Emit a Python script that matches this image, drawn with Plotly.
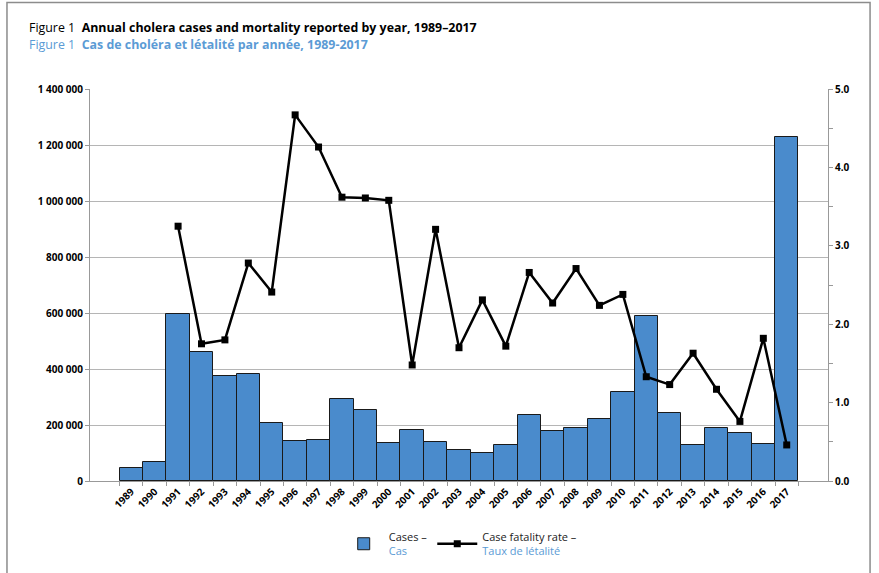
import plotly.graph_objects as go

years = [str(y) for y in range(1989, 2018)]
cases = [47000, 68000, 595000, 461000, 376000, 383000, 207000, 143000, 146000, 292000,
         252000, 135000, 183000, 141000, 110000, 99000, 129000, 234000, 177000, 189000,
         220000, 317000, 589000, 244000, 128000, 189000, 171000, 132000, 1227000]
cfr = [None, None, 3.25, 1.75, 1.80, 2.78, 2.41, 4.67, 4.26, 3.62,
       3.61, 3.58, 1.48, 3.21, 1.70, 2.31, 1.72, 2.66, 2.27, 2.71,
       2.24, 2.38, 1.33, 1.23, 1.63, 1.17, 0.76, 1.82, 0.46]

left_ticks = [0, 200000, 400000, 600000, 800000, 1000000, 1200000, 1400000]
right_ticks = [0, 1, 2, 3, 4, 5]

BLUE = "#4a8bcc"
LBLUE = "#5b9bd5"
FONT = "Open Sans"
TICKFONT = dict(family="Liberation Sans Narrow, Open Sans", size=10, color="black", weight="bold")

fig = go.Figure()
fig.add_trace(go.Bar(
    x=years, y=cases, name="Cases –<br><span style='color:%s'>Cas</span>" % LBLUE,
    marker=dict(color=BLUE, line=dict(color="#1a1a1a", width=1)),
    yaxis="y",
))
fig.add_trace(go.Scatter(
    x=years, y=cfr, name="Case fatality rate –<br><span style='color:%s'>Taux de létalité</span>" % LBLUE,
    mode="lines+markers", line=dict(color="black", width=2.5),
    marker=dict(symbol="square", size=7, color="black"),
    yaxis="y2",
))

fig.update_layout(
    width=879, height=573,
    margin=dict(l=90, r=51, t=89, b=92, autoexpand=False),
    paper_bgcolor="white", plot_bgcolor="white",
    separators=". ",
    bargap=0,
    font=dict(family=FONT, size=9, color="black"),
    showlegend=True,
    legend=dict(orientation="h", x=0.337, y=-0.107, xanchor="left", yanchor="top",
                font=dict(family=FONT, size=11, color="#222"), traceorder="normal",
                itemwidth=40, tracegroupgap=0),
    xaxis=dict(type="category", tickson="boundaries", ticks="outside", ticklen=4,
               tickcolor="#999", showline=True, linecolor="#999", tickangle=-45,
               tickfont=TICKFONT, showgrid=False, automargin=False),
    yaxis=dict(range=[0, 1400000], tickvals=left_ticks, tickformat=",d",
               ticks="outside", ticklen=4, tickcolor="#999", automargin=False,
               showline=True, linecolor="#999", showgrid=True, gridcolor="#b5b5b5",
               gridwidth=1, zeroline=False, tickfont=TICKFONT),
    yaxis2=dict(range=[0, 5], tickvals=right_ticks, tickformat=".1f", overlaying="y",
                side="right", ticks="outside", ticklen=4, tickcolor="#999", automargin=False,
                showline=True, linecolor="#999", showgrid=False, zeroline=False,
                minor=dict(dtick=0.5, ticks="outside", ticklen=4, tickcolor="#999"),
                tickfont=TICKFONT),
    shapes=[dict(type="rect", xref="paper", yref="paper", x0=-0.1125, x1=1.057,
                 y0=-0.35, y1=1.2205, line=dict(color="#8c8c8c", width=1.5),
                 fillcolor="rgba(0,0,0,0)", layer="below")],
    annotations=[
        dict(xref="paper", yref="paper", x=-0.0855, y=1.156, xanchor="left", yanchor="middle",
             showarrow=False, align="left",
             text="Figure 1  <b>Annual cholera cases and mortality reported by year, 1989–2017</b>",
             font=dict(family=FONT, size=12.4, color="black")),
        dict(xref="paper", yref="paper", x=-0.0855, y=1.113, xanchor="left", yanchor="middle",
             showarrow=False, align="left",
             text="Figure 1  <b>Cas de choléra et létalité par année, 1989-2017</b>",
             font=dict(family=FONT, size=12.4, color=LBLUE)),
    ],
)

fig.write_html("out.html", config={"displayModeBar": False},
               post_script="document.body.style.margin='0';document.body.style.padding='0';document.body.style.overflow='hidden';")
